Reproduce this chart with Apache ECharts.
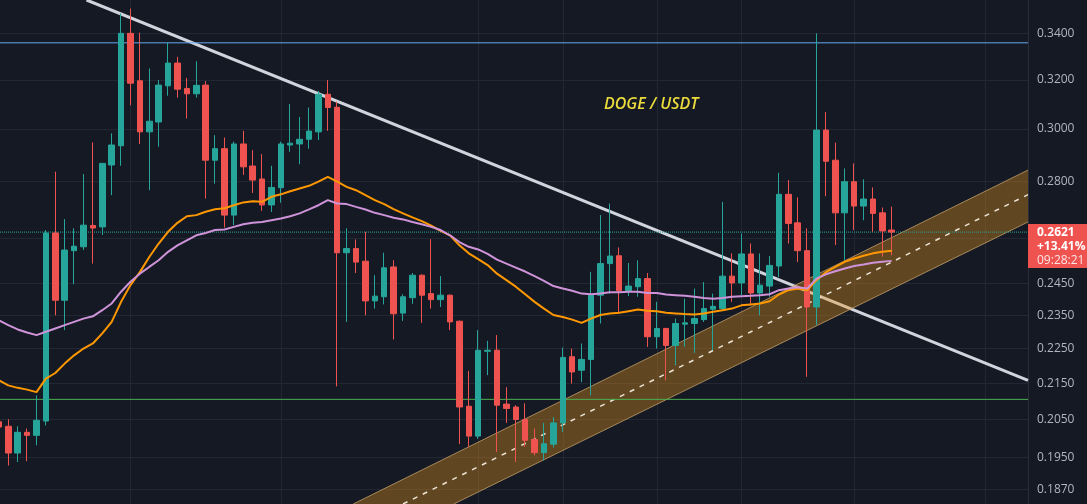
<!DOCTYPE html>
<html><head><meta charset="utf-8">
<script src="https://cdn.jsdelivr.net/npm/echarts@6/dist/echarts.min.js"></script>
<style>html,body{margin:0;padding:0;background:#151924;}#c{width:1087px;height:504px;}</style>
</head><body><div id="c"></div>
<script>
const chartTitle = 'DOGE / USDT';
// candles: [open, close, low, high], one per bar (bar 0 is the partly visible one at the left edge)
const candles = [
[0.2044,0.2030,0.2025,0.2050],
[0.2032,0.1962,0.1930,0.2051],[0.1962,0.2016,0.1939,0.2032],[0.2016,0.2008,0.1941,0.2026],[0.2008,0.2048,0.1982,0.2116],
[0.2046,0.2618,0.2034,0.2628],[0.2618,0.2397,0.2350,0.2837],[0.2397,0.2560,0.2305,0.2666],[0.2558,0.2573,0.2448,0.2634],
[0.2571,0.2645,0.2560,0.2828],[0.2644,0.2635,0.2515,0.2948],[0.2639,0.2868,0.2611,0.2870],[0.2862,0.2938,0.2751,0.2983],
[0.2935,0.3401,0.2859,0.3491],[0.3401,0.3186,0.3095,0.3513],[0.3196,0.2989,0.2942,0.3404],[0.2989,0.3031,0.2769,0.3248],
[0.3028,0.3178,0.2931,0.3199],[0.3175,0.3271,0.3134,0.3361],[0.3271,0.3161,0.3126,0.3298],[0.3164,0.3142,0.3042,0.3208],
[0.3142,0.3177,0.3126,0.3279],[0.3178,0.2880,0.2739,0.3195],[0.2880,0.2924,0.2793,0.2976],[0.2924,0.2680,0.2637,0.2967],
[0.2680,0.2942,0.2645,0.2951],[0.2942,0.2855,0.2825,0.2993],[0.2858,0.2806,0.2759,0.2918],[0.2810,0.2716,0.2695,0.2903],
[0.2716,0.2779,0.2691,0.2859],[0.2778,0.2942,0.2724,0.2951],[0.2938,0.2945,0.2912,0.3100],[0.2942,0.2960,0.2865,0.3048],
[0.2960,0.2992,0.2924,0.3086],[0.2989,0.3140,0.2957,0.3154],[0.3140,0.3086,0.2993,0.3199],[0.3087,0.2551,0.2141,0.3110],
[0.2551,0.2565,0.2330,0.2634],[0.2565,0.2520,0.2484,0.2596],[0.2523,0.2395,0.2350,0.2622],[0.2395,0.2410,0.2371,0.2477],
[0.2408,0.2501,0.2384,0.2551],[0.2504,0.2355,0.2277,0.2526],[0.2357,0.2408,0.2333,0.2416],[0.2405,0.2477,0.2386,0.2484],
[0.2477,0.2413,0.2327,0.2480],[0.2418,0.2399,0.2371,0.2597],[0.2399,0.2413,0.2376,0.2474],[0.2413,0.2330,0.2305,0.2415],
[0.2332,0.2084,0.1985,0.2334],[0.2086,0.2006,0.1978,0.2185],[0.2006,0.2245,0.1999,0.2305],[0.2242,0.2245,0.2173,0.2273],
[0.2245,0.2089,0.1965,0.2290],[0.2092,0.2080,0.2041,0.2139],[0.2084,0.2050,0.1939,0.2089],[0.2050,0.1995,0.1978,0.2094],
[0.1997,0.1963,0.1956,0.2026],[0.1963,0.1986,0.1943,0.2041],[0.1985,0.2041,0.1976,0.2057],[0.2041,0.2224,0.2017,0.2253],
[0.2226,0.2182,0.2149,0.2250],[0.2187,0.2218,0.2153,0.2265],[0.2218,0.2413,0.2116,0.2488],[0.2413,0.2515,0.2325,0.2680],
[0.2515,0.2540,0.2418,0.2721],[0.2541,0.2427,0.2355,0.2569],[0.2427,0.2442,0.2410,0.2517],[0.2440,0.2466,0.2408,0.2526],
[0.2466,0.2285,0.2255,0.2484],[0.2285,0.2310,0.2250,0.2392],[0.2310,0.2259,0.2158,0.2312],[0.2259,0.2325,0.2201,0.2340],
[0.2323,0.2327,0.2255,0.2402],[0.2325,0.2340,0.2237,0.2434],[0.2337,0.2371,0.2330,0.2455],[0.2369,0.2378,0.2245,0.2418],
[0.2371,0.2474,0.2364,0.2727],[0.2474,0.2452,0.2392,0.2549],[0.2452,0.2547,0.2413,0.2616],[0.2547,0.2420,0.2381,0.2582],
[0.2420,0.2445,0.2350,0.2549],[0.2442,0.2509,0.2408,0.2540],[0.2507,0.2754,0.2471,0.2833],[0.2754,0.2651,0.2582,0.2806],
[0.2653,0.2558,0.2520,0.2743],[0.2558,0.2376,0.2168,0.2634],[0.2376,0.2996,0.2320,0.3401],[0.2996,0.2876,0.2747,0.3068],
[0.2880,0.2688,0.2577,0.2947],[0.2688,0.2800,0.2526,0.2849],[0.2800,0.2712,0.2628,0.2868],[0.2712,0.2737,0.2662,0.2809],
[0.2737,0.2686,0.2622,0.2779],[0.2688,0.2625,0.2538,0.2707],[0.2628,0.2621,0.2543,0.2710]
];
// orange moving average (one value per bar)
const emaLine = [0.2158,
0.2144,0.2137,0.2132,0.2125,0.2163,0.2179,0.2206,0.2230,0.2250,0.2265,0.2295,0.2330,0.2392,0.2445,0.2487,0.2537,
0.2582,0.2622,0.2653,0.2676,0.2680,0.2692,0.2701,0.2704,0.2715,0.2725,0.2729,0.2727,0.2745,0.2754,0.2765,0.2775,
0.2785,0.2800,0.2818,0.2800,0.2781,0.2769,0.2751,0.2733,0.2719,0.2701,0.2686,0.2672,0.2659,0.2643,0.2625,0.2610,
0.2576,0.2549,0.2530,0.2510,0.2482,0.2461,0.2440,0.2416,0.2392,0.2371,0.2351,0.2345,0.2337,0.2327,0.2340,0.2351,
0.2356,0.2358,0.2363,0.2368,0.2364,0.2363,0.2358,0.2356,0.2354,0.2353,0.2356,0.2361,0.2366,0.2371,0.2381,0.2384,
0.2387,0.2394,0.2415,0.2429,0.2434,0.2429,0.2461,0.2487,0.2504,0.2521,0.2532,0.2541,0.2549,0.2554,0.2558];
// violet moving average (one value per bar)
const maLine = [0.2335,
0.2320,0.2307,0.2298,0.2290,0.2300,0.2310,0.2320,0.2330,0.2340,0.2347,0.2366,0.2387,0.2424,0.2456,0.2482,0.2504,
0.2526,0.2554,0.2576,0.2593,0.2610,0.2618,0.2628,0.2630,0.2639,0.2648,0.2653,0.2656,0.2662,0.2668,0.2676,0.2686,
0.2700,0.2715,0.2733,0.2721,0.2719,0.2709,0.2700,0.2688,0.2680,0.2671,0.2665,0.2656,0.2648,0.2639,0.2628,0.2610,
0.2587,0.2571,0.2562,0.2547,0.2528,0.2515,0.2502,0.2489,0.2474,0.2459,0.2442,0.2434,0.2427,0.2418,0.2416,0.2418,
0.2422,0.2422,0.2424,0.2424,0.2420,0.2420,0.2415,0.2413,0.2411,0.2408,0.2404,0.2402,0.2404,0.2408,0.2410,0.2411,
0.2413,0.2416,0.2429,0.2434,0.2438,0.2434,0.2466,0.2480,0.2490,0.2499,0.2507,0.2512,0.2518,0.2521,0.2524];
const priceLabels = [0.34,0.32,0.30,0.28,0.245,0.235,0.225,0.215,0.205,0.195,0.187];
const priceGrid = [0.34,0.32,0.30,0.28,0.26,0.245,0.235,0.225,0.215,0.205,0.195,0.187];
const timeGrid = [14,30,51,60,70,79,91,105];
const xMin = 0.117, xMax = 109.5;
const yMin = 0.18352, yMax = 0.3553;
const resistanceLevel = 0.3359;
const supportLevel = 0.2105;
const lastPrice = 0.2621;
const changeText = '+13.41%';
const countdownText = '09:28:21';
const trendLine = [[9.33,0.3553],[109.5,0.2158]];
const channelUpper = [[37.7,0.18352],[109.5,0.2843]];
const channelLower = [[48.4,0.18352],[109.5,0.2656]];
const channelMid = [[43.0,0.18352],[109.5,0.2753]];

const UP = '#26a69a', DOWN = '#ef5350';
const FONT = '"Open Sans", "Liberation Sans", sans-serif';
const chart = echarts.init(document.getElementById('c'), null, {renderer:'canvas'});

function lineSeries(data, color, width, type, z){
  return {type:'line', data:data, showSymbol:false, symbol:'none', silent:true, z:z,
    lineStyle:{color:color, width:width, type:type||'solid'}, animation:false};
}

const option = {
  backgroundColor:'#151924',
  animation:false,
  grid:{left:0, right:59, top:0, bottom:0, containLabel:false},
  xAxis:{type:'value', min:xMin, max:xMax,
    axisLine:{show:false}, axisLabel:{show:false},
    axisTick:{show:false, customValues:timeGrid},
    splitLine:{show:true, lineStyle:{color:'#232733', width:1}}},
  yAxis:{type:'log', logBase:10, position:'right', min:yMin, max:yMax,
    axisLine:{show:true, lineStyle:{color:'#2a2e39'}},
    axisTick:{show:false, customValues:priceGrid},
    splitLine:{show:true, lineStyle:{color:'#232733', width:1}},
    axisLabel:{customValues:priceLabels, formatter:v=>Number(v).toFixed(4),
      color:'#b2b5be', fontSize:12, fontFamily:FONT, margin:9, align:'left'}},
  series:[
    lineSeries(trendLine, '#d1d4dc', 3, 'solid', 2),
    {type:'custom', data:[0], clip:true, silent:true, z:3,
      renderItem:function(params, api){
        const pts = [channelUpper[0], channelUpper[1], channelLower[1], channelLower[0]].map(p=>api.coord(p));
        return {type:'polygon', shape:{points:pts}, style:{fill:'rgba(232,150,30,0.36)', stroke:null}};
      }},
    lineSeries(channelUpper, 'rgba(200,165,110,0.75)', 1, 'solid', 3),
    lineSeries(channelLower, 'rgba(200,165,110,0.75)', 1, 'solid', 3),
    lineSeries(channelMid, '#ece4d4', 1.5, [5,6], 3),
    lineSeries([[xMin,resistanceLevel],[xMax,resistanceLevel]], '#64a8f0', 1, 'solid', 3),
    lineSeries([[xMin,supportLevel],[xMax,supportLevel]], '#4caf50', 1, 'solid', 3),
    lineSeries([[xMin,lastPrice],[xMax,lastPrice]], '#26a69a', 1, 'dotted', 3),
    {type:'candlestick', clip:false, z:4, silent:true, barWidth:6,
      encode:{x:0, y:[1,2,3,4]},
      data:candles.map((c,i)=>[i, c[0], c[1], c[2], c[3]]),
      itemStyle:{color:UP, color0:DOWN, borderColor:UP, borderColor0:DOWN, borderWidth:1}},
    lineSeries(emaLine.map((v,i)=>[i,v]), '#ff9800', 2, 'solid', 5),
    lineSeries(maLine.map((v,i)=>[i,v]), '#ce93d8', 2, 'solid', 5)
  ]
};
chart.setOption(option);

const py = chart.convertToPixel({yAxisIndex:0}, lastPrice);
const px = chart.convertToPixel({xAxisIndex:0}, xMax);
chart.setOption({graphic:[
  {type:'rect', z:100, shape:{x:px, y:py-8, width:1087-px, height:44}, style:{fill:DOWN}},
  {type:'text', z:101, x:px+9, y:py+0.5, style:{text:lastPrice.toFixed(4), fill:'#ffffff', font:'bold 12px '+FONT, verticalAlign:'middle', align:'left'}},
  {type:'text', z:101, x:px+9, y:py+14.5, style:{text:changeText, fill:'#ffffff', font:'bold 12px '+FONT, verticalAlign:'middle', align:'left'}},
  {type:'text', z:101, x:px+9, y:py+28.5, style:{text:countdownText, fill:'rgba(255,255,255,0.85)', font:'12px '+FONT, verticalAlign:'middle', align:'left'}},
  {type:'text', z:101, x:604, y:104.5, style:{text:chartTitle, fill:'#ecdc3c', font:'italic 600 16px '+FONT, verticalAlign:'middle', align:'left'}}
]});
</script></body></html>
